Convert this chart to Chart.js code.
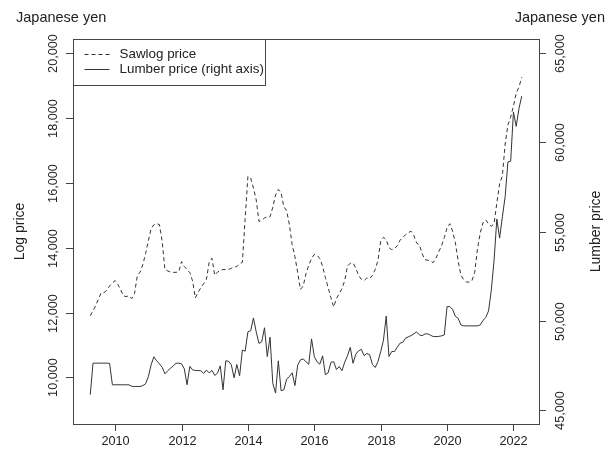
<!DOCTYPE html>
<html>
<head>
<meta charset="utf-8">
<script src="https://cdn.jsdelivr.net/npm/chart.js@4/dist/chart.umd.min.js"></script>
<style>
  html, body { margin: 0; padding: 0; background: #fff; }
  canvas { display: block; }
</style>
</head>
<body>
<canvas id="priceChart" width="611" height="455"></canvas>
<script>
    // monthly series, April 2009 - April 2022
    const startYear = 2009;
    const startMonth = 4;

    // sawlog price, yen (left axis)
    const sawlogPrice = [
        11900, 12060, 12215, 12430, 12615, 12615, 12690, 12820, 12910, 12985,
        12860, 12700, 12515, 12490, 12520, 12430, 12585, 13130, 13245, 13475,
        13815, 14215, 14585, 14710, 14740, 14715, 14195, 13325, 13285, 13250,
        13240, 13240, 13260, 13570, 13420, 13325, 13230, 12970, 12450, 12625,
        12770, 12890, 13030, 13550, 13675, 13150, 13245, 13300, 13325, 13325,
        13330, 13365, 13395, 13420, 13510, 13550, 14900, 16200, 16150, 15840,
        15475, 14810, 14845, 14915, 14955, 14955, 15250, 15630, 15800, 15690,
        15260, 15145, 14710, 14090, 13720, 13230, 12710, 12820, 13200, 13460,
        13670, 13790, 13770, 13660, 13430, 13080, 12770, 12460, 12170, 12430,
        12585, 12740, 12985, 13430, 13520, 13530, 13370, 13150, 13025, 12985,
        13065, 13045, 13140, 13325, 13600, 14200, 14320, 14250, 14000, 13940,
        13970, 14060, 14230, 14320, 14400, 14460, 14510, 14370, 14145, 14090,
        13815, 13630, 13615, 13580, 13540, 13675, 13875, 14060, 14310, 14615,
        14740, 14510, 14155, 13600, 13155, 13015, 12940, 12940, 12985, 13245,
        13970, 14460, 14770, 14860, 14725, 14665, 14740, 15385, 15970, 16215,
        17200, 17785, 18030, 18370, 18770, 18955, 19260
    ];

    // lumber price, yen (right axis)
    const lumberPrice = [
        45840, 47615, 47615, 47615, 47615, 47615, 47615, 47600, 46400, 46400,
        46400, 46400, 46400, 46400, 46400, 46315, 46305, 46305, 46305, 46355,
        46455, 46850, 47520, 47970, 47745, 47575, 47380, 47015, 47185, 47325,
        47465, 47605, 47615, 47575, 47295, 46400, 47435, 47240, 47200, 47200,
        47185, 47035, 47220, 47070, 47210, 46925, 47050, 47465, 46120, 47745,
        47720, 47520, 46790, 47535, 46905, 48345, 48285, 49370, 49440, 50150,
        49370, 48720, 48810, 49600, 47985, 49070, 46475, 45935, 47745, 46065,
        46120, 46710, 46870, 47070, 46355, 47500, 47800, 47855, 47690, 47550,
        48975, 47985, 47690, 47555, 48025, 46970, 47070, 47655, 47700, 47255,
        47425, 47185, 47670, 48025, 48500, 47605, 48115, 48305, 48390, 48040,
        48155, 48090, 47550, 47370, 47690, 48250, 48900, 50250, 47985, 48265,
        48265, 48510, 48735, 48785, 49015, 49090, 49160, 49255, 49370, 49200,
        49155, 49255, 49255, 49185, 49105, 49105, 49115, 49145, 49200, 50785,
        50785, 50630, 50235, 50135, 49760, 49705, 49705, 49705, 49705, 49705,
        49705, 49760, 50010, 50180, 50545, 51720, 53400, 55700, 54630, 55825,
        56950, 58900, 58950, 61700, 60900, 61900, 62600
    ];

    const yearTicks = [2010, 2012, 2014, 2016, 2018, 2020, 2022];
    const logTicks = [10000, 12000, 14000, 16000, 18000, 20000];
    const lumberTicks = [45000, 50000, 55000, 60000, 65000];

    const legendLabels = ['Sawlog price', 'Lumber price (right axis)'];

    // month index -> decimal year
    const monthTimes = sawlogPrice.map((_, i) => startYear + (startMonth - 1 + i) / 12);

    const LINE = '#333';
    const TEXT = '#222';
    const FONT = '"Liberation Sans", Arial, Helvetica, sans-serif';

    // R-like frame, ticks and labels drawn on top of the library scales
    const basePlot = {
        id: 'basePlot',
        afterDraw(chart) {
            const ctx = chart.ctx;
            const a = chart.chartArea;
            const sx = chart.scales.x, sy = chart.scales.y, sy1 = chart.scales.y1;
            ctx.save();
            ctx.strokeStyle = '#444';
            ctx.lineWidth = 1;
            ctx.strokeRect(Math.round(a.left) + 0.5, Math.round(a.top) + 0.5,
                Math.round(a.right - a.left), Math.round(a.bottom - a.top));

            ctx.fillStyle = TEXT;

            // x axis
            ctx.font = '12.7px ' + FONT;
            ctx.textAlign = 'center';
            ctx.textBaseline = 'alphabetic';
            yearTicks.forEach(t => {
                const px = Math.round(sx.getPixelForValue(t)) + 0.5;
                ctx.beginPath();
                ctx.moveTo(px, a.bottom);
                ctx.lineTo(px, a.bottom + 7);
                ctx.stroke();
                ctx.fillText(String(t), px, a.bottom + 21);
            });

            // left axis
            logTicks.forEach(t => {
                const py = Math.round(sy.getPixelForValue(t)) + 0.5;
                ctx.beginPath();
                ctx.moveTo(a.left, py);
                ctx.lineTo(a.left - 7, py);
                ctx.stroke();
                ctx.save();
                ctx.translate(a.left - 16, py);
                ctx.rotate(-Math.PI / 2);
                ctx.fillText(t.toLocaleString('en-US'), 0, 0);
                ctx.restore();
            });

            // right axis
            lumberTicks.forEach(t => {
                const py = Math.round(sy1.getPixelForValue(t)) + 0.5;
                ctx.beginPath();
                ctx.moveTo(a.right, py);
                ctx.lineTo(a.right + 7, py);
                ctx.stroke();
                ctx.save();
                ctx.translate(a.right + 25, py);
                ctx.rotate(-Math.PI / 2);
                ctx.fillText(t.toLocaleString('en-US'), 0, 0);
                ctx.restore();
            });

            // axis titles
            const midY = (a.top + a.bottom) / 2;
            ctx.font = '14px ' + FONT;
            ctx.save();
            ctx.translate(24, midY);
            ctx.rotate(-Math.PI / 2);
            ctx.fillText('Log price', 0, 0);
            ctx.restore();
            ctx.save();
            ctx.translate(600, midY);
            ctx.rotate(-Math.PI / 2);
            ctx.fillText('Lumber price', 0, 0);
            ctx.restore();

            ctx.font = '14.5px ' + FONT;
            ctx.textAlign = 'left';
            ctx.fillText('Japanese yen', 16, 22);
            ctx.textAlign = 'right';
            ctx.fillText('Japanese yen', 605, 22);

            // legend
            const lx = Math.round(a.left) + 0.5, ly = Math.round(a.top) + 0.5;
            ctx.fillStyle = '#fff';
            ctx.fillRect(lx, ly, 192, 46);
            ctx.strokeStyle = '#444';
            ctx.strokeRect(lx, ly, 192, 46);
            ctx.strokeStyle = LINE;
            ctx.beginPath();
            ctx.setLineDash([4, 3]);
            ctx.moveTo(lx + 11, ly + 15);
            ctx.lineTo(lx + 36, ly + 15);
            ctx.stroke();
            ctx.setLineDash([]);
            ctx.beginPath();
            ctx.moveTo(lx + 11, ly + 30);
            ctx.lineTo(lx + 36, ly + 30);
            ctx.stroke();
            ctx.fillStyle = TEXT;
            ctx.font = '13.4px ' + FONT;
            ctx.textAlign = 'left';
            ctx.textBaseline = 'middle';
            ctx.fillText(legendLabels[0], lx + 46, ly + 15);
            ctx.fillText(legendLabels[1], lx + 46, ly + 30);
            ctx.restore();
        }
    };

    const config = {
        type: 'line',
        data: {
            datasets: [{
                label: legendLabels[0],
                data: sawlogPrice.map((v, i) => ({ x: monthTimes[i], y: v })),
                yAxisID: 'y',
                borderColor: LINE,
                borderWidth: 1,
                borderDash: [4, 3],
                pointRadius: 0,
                tension: 0,
                fill: false
            }, {
                label: legendLabels[1],
                data: lumberPrice.map((v, i) => ({ x: monthTimes[i], y: v })),
                yAxisID: 'y1',
                borderColor: LINE,
                borderWidth: 1,
                pointRadius: 0,
                tension: 0,
                fill: false
            }]
        },
        options: {
            responsive: false,
            animation: false,
            devicePixelRatio: 1,
            layout: { padding: { left: 73, right: 72, top: 39, bottom: 31 } },
            plugins: { legend: { display: false }, tooltip: { enabled: false } },
            scales: {
                x: { type: 'linear', min: 2008.73, max: 2022.77, display: false },
                y: { type: 'linear', min: 8560, max: 20440, display: false },
                y1: { type: 'linear', position: 'right', min: 44200, max: 65800, display: false }
            }
        },
        plugins: [basePlot]
    };

    new Chart(document.getElementById('priceChart'), config);
</script>
</body>
</html>
